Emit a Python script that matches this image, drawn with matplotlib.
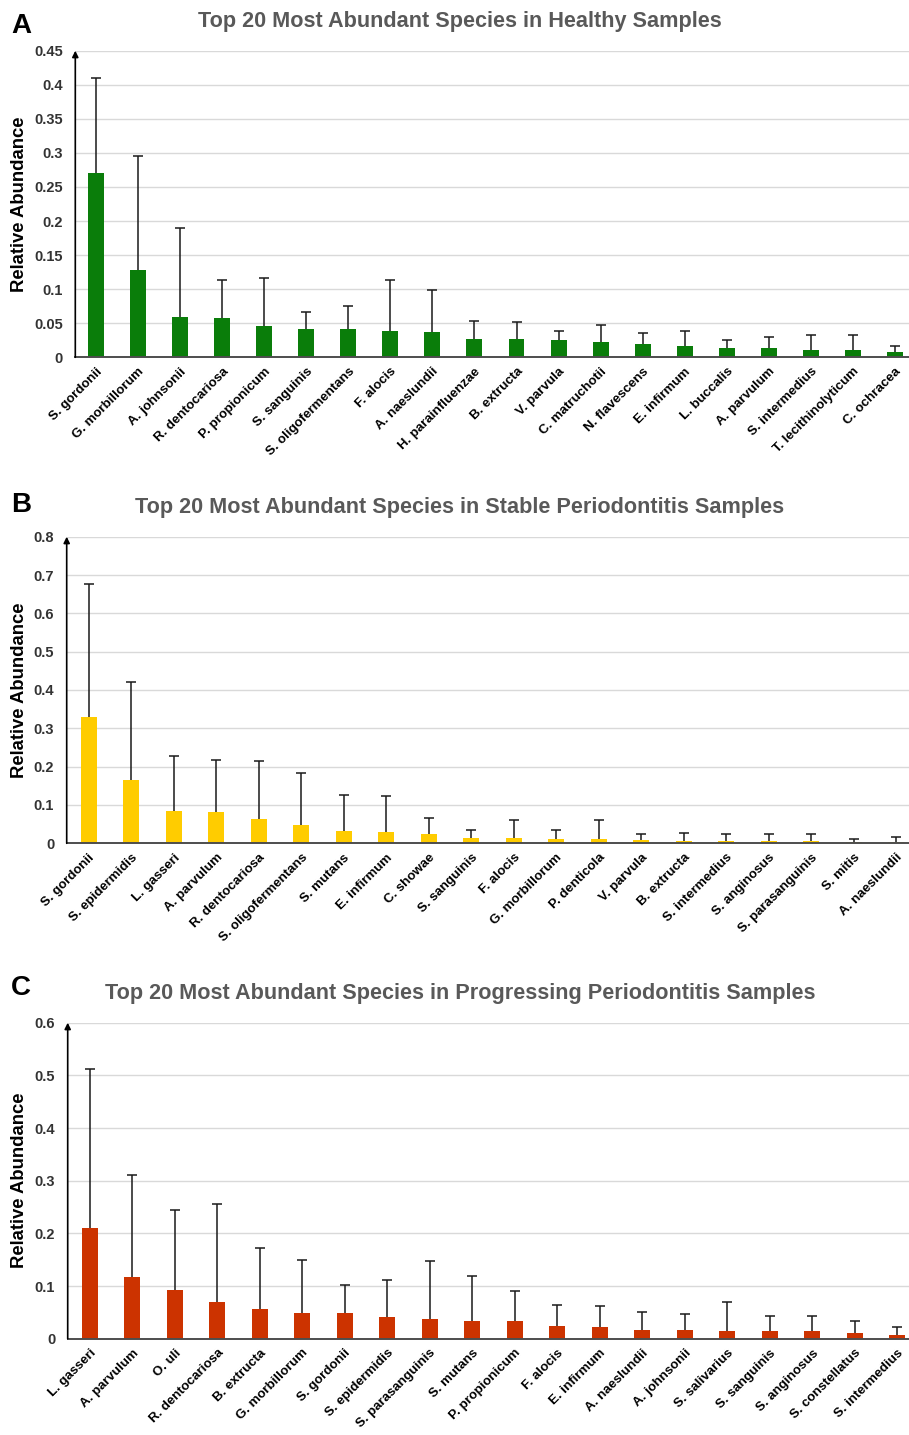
import matplotlib
matplotlib.use('Agg')
import matplotlib.pyplot as plt

# ---- data ----
healthy_species = ['S. gordonii', 'G. morbillorum', 'A. johnsonii', 'R. dentocariosa', 'P. propionicum',
                   'S. sanguinis', 'S. oligofermentans', 'F. alocis', 'A. naeslundii', 'H. parainfluenzae',
                   'B. extructa', 'V. parvula', 'C. matruchotii', 'N. flavescens', 'E. infirmum',
                   'L. buccalis', 'A. parvulum', 'S. intermedius', 'T. lecithinolyticum', 'C. ochracea']
healthy_mean = [0.270, 0.128, 0.059, 0.058, 0.046, 0.042, 0.042, 0.039, 0.037, 0.027,
                0.027, 0.025, 0.022, 0.019, 0.017, 0.013, 0.013, 0.010, 0.010, 0.008]
healthy_upper = [0.410, 0.296, 0.190, 0.113, 0.117, 0.067, 0.076, 0.113, 0.099, 0.053,
                 0.052, 0.039, 0.047, 0.036, 0.039, 0.026, 0.030, 0.033, 0.033, 0.017]

stable_species = ['S. gordonii', 'S. epidermidis', 'L. gasseri', 'A. parvulum', 'R. dentocariosa',
                  'S. oligofermentans', 'S. mutans', 'E. infirmum', 'C. showae', 'S. sanguinis',
                  'F. alocis', 'G. morbillorum', 'P. denticola', 'V. parvula', 'B. extructa',
                  'S. intermedius', 'S. anginosus', 'S. parasanguinis', 'S. mitis', 'A. naeslundii']
stable_mean = [0.330, 0.164, 0.085, 0.082, 0.064, 0.049, 0.033, 0.030, 0.024, 0.015,
               0.015, 0.011, 0.011, 0.009, 0.006, 0.006, 0.006, 0.006, 0.004, 0.004]
stable_upper = [0.676, 0.421, 0.227, 0.217, 0.214, 0.184, 0.127, 0.124, 0.066, 0.036,
                0.060, 0.036, 0.060, 0.024, 0.028, 0.024, 0.024, 0.024, 0.011, 0.017]

progress_species = ['L. gasseri', 'A. parvulum', 'O. uli', 'R. dentocariosa', 'B. extructa',
                    'G. morbillorum', 'S. gordonii', 'S. epidermidis', 'S. parasanguinis', 'S. mutans',
                    'P. propionicum', 'F. alocis', 'E. infirmum', 'A. naeslundii', 'A. johnsonii',
                    'S. salivarius', 'S. sanguinis', 'S. anginosus', 'S. constellatus', 'S. intermedius']
progress_mean = [0.211, 0.117, 0.093, 0.069, 0.056, 0.049, 0.049, 0.042, 0.038, 0.034,
                 0.034, 0.025, 0.022, 0.016, 0.016, 0.014, 0.014, 0.014, 0.010, 0.007]
progress_upper = [0.513, 0.311, 0.245, 0.255, 0.172, 0.149, 0.102, 0.112, 0.148, 0.119,
                  0.090, 0.064, 0.062, 0.051, 0.046, 0.070, 0.044, 0.044, 0.034, 0.022]

FIG_W, FIG_H = 909, 1435
plt.rcParams['font.family'] = ['Liberation Sans', 'DejaVu Sans']

fig = plt.figure(figsize=(FIG_W / 100, FIG_H / 100), dpi=100)


def draw_panel(letter, title, species, mean, upper, color, ymax, ystep, ticks_fmt,
               left_px, top_px, bottom_px, first_px, spacing_px, letter_base, title_base):
    ax = fig.add_axes([left_px / FIG_W, 1 - bottom_px / FIG_H,
                       1 - left_px / FIG_W, (bottom_px - top_px) / FIG_H])
    x = list(range(len(species)))
    err = [u - m for u, m in zip(upper, mean)]
    ax.bar(x, mean, width=0.38, color=color, zorder=3)
    _, caps, _ = ax.errorbar(x, mean, yerr=[[0] * len(err), err], fmt='none', ecolor='#1a1a1a',
                             elinewidth=1.1, capsize=3.5, capthick=1.1, zorder=4)
    # only the upper cap is drawn in the original
    caps[0].set_visible(False)

    ax.set_xlim((left_px - first_px) / spacing_px, (FIG_W - first_px) / spacing_px)
    ax.set_ylim(0, ymax)
    nt = int(round(ymax / ystep))
    yt = [i * ystep for i in range(nt + 1)]
    ax.set_yticks(yt)
    ax.set_yticklabels([ticks_fmt(v) for v in yt], fontsize=10.5, fontweight='bold', color='#333333')
    ax.set_xticks(x)
    ax.set_xticklabels(species, rotation=45, ha='right', rotation_mode='anchor',
                       fontsize=9.5, fontweight='bold')
    ax.tick_params(axis='y', length=0, pad=9)
    ax.tick_params(axis='x', length=0, pad=6)
    ax.yaxis.grid(True, color='#d9d9d9', linewidth=1.0, zorder=0)
    ax.set_axisbelow(True)
    for s in ['top', 'right', 'left']:
        ax.spines[s].set_visible(False)
    ax.spines['bottom'].set_color('#4d4d4d')
    ax.spines['bottom'].set_linewidth(1.4)
    ax.spines['bottom'].set_zorder(5)
    # y axis with arrow head
    ax.annotate('', xy=(0, 1.0), xytext=(0, 0), xycoords='axes fraction',
                arrowprops=dict(arrowstyle='-|>', color='black', lw=1.2,
                                mutation_scale=9, shrinkA=0, shrinkB=0), zorder=6)
    ax.set_ylabel('Relative Abundance', fontsize=13.3, fontweight='bold')
    ax.yaxis.set_label_coords(-(left_px - 28) / (FIG_W - left_px), 0.5)

    fig.text(11 / FIG_W, 1 - letter_base / FIG_H, letter, fontsize=20, fontweight='bold',
             va='baseline', ha='left')
    fig.text(460 / FIG_W, 1 - title_base / FIG_H, title, fontsize=15.6, fontweight='bold',
             color='#595959', va='baseline', ha='center')
    return ax


def fmt(v):
    s = ('%.2f' % v).rstrip('0').rstrip('.')
    return s if s else '0'


draw_panel('A', 'Top 20 Most Abundant Species in Healthy Samples',
           healthy_species, healthy_mean, healthy_upper, '#0a7d0a', 0.45, 0.05, fmt,
           75.3, 50.7, 357.3, 96.0, 42.05, 33, 27)
draw_panel('B', 'Top 20 Most Abundant Species in Stable Periodontitis Samples',
           stable_species, stable_mean, stable_upper, '#ffcc00', 0.8, 0.1, fmt,
           66.7, 536.7, 843.3, 88.7, 42.5, 512, 513)
draw_panel('C', 'Top 20 Most Abundant Species in Progressing Periodontitis Samples',
           progress_species, progress_mean, progress_upper, '#cc3300', 0.6, 0.1, fmt,
           67.7, 1022.7, 1338.7, 89.7, 42.5, 995, 999)

fig.savefig('out.png', dpi=100)
